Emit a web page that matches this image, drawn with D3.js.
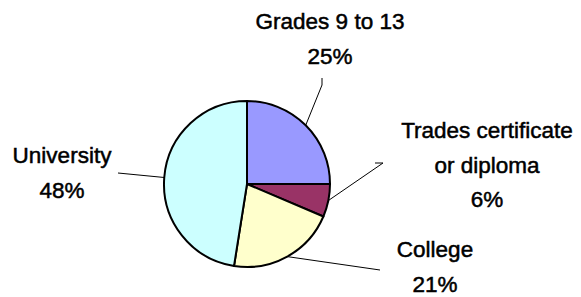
<!DOCTYPE html>
<html>
<head>
<meta charset="utf-8">
<script src="https://cdn.jsdelivr.net/npm/d3@7"></script>
<style>
  body { margin: 0; background: #fff; }
  .label {
    font-family: "Liberation Sans", Arial, sans-serif;
    font-size: 22.5px;
    fill: #000;
    stroke: #000;
    stroke-width: 0.5px;
  }
</style>
</head>
<body>
<div id="chart"></div>
<script>
const categories = ["Grades 9 to 13", "Trades certificate or diploma", "College", "University"];
const values = [25.0, 6.4, 21.1, 47.5];
const labelLines = [
  ["Grades 9 to 13"],
  ["Trades certificate", "or diploma"],
  ["College"],
  ["University"]
];
const colors = ["#9999ff", "#993366", "#ffffcc", "#ccffff"];

const width = 581;
const height = 297;
const cx = 247;
const cy = 184;
const radius = 83;
const lineGap = 34.5;

// where each label block sits, and where its leader line ends
const layout = [
  { x: 330, y: 29, leader: [[322, 78], [322, 85]] },
  { x: 487, y: 138, leader: [[375, 163], [383, 163]] },
  { x: 435, y: 257, leader: [[380, 270]] },
  { x: 62, y: 163, leader: [[118, 173]] }
];

const svg = d3.select("#chart")
  .append("svg")
  .attr("width", width)
  .attr("height", height);

const total = d3.sum(values);
const data = categories.map(function(c, i) {
  return { name: c, value: values[i], color: colors[i], lines: labelLines[i], pos: layout[i] };
});

const pie = d3.pie()
  .value(d => d.value)
  .sort(null);

const arc = d3.arc()
  .innerRadius(0)
  .outerRadius(radius);

const g = svg.append("g")
  .attr("transform", `translate(${cx}, ${cy})`);

const arcs = pie(data);

g.selectAll("path.slice")
  .data(arcs)
  .enter()
  .append("path")
  .attr("class", "slice")
  .attr("d", arc)
  .attr("fill", d => d.data.color)
  .attr("stroke", "#000")
  .attr("stroke-width", 2)
  .attr("stroke-linejoin", "round");

// Leader lines from the middle of each arc
arcs.forEach(function(d) {
  const mid = (d.startAngle + d.endAngle) / 2;
  const start = [cx + radius * Math.sin(mid), cy - radius * Math.cos(mid)];
  const pts = [start].concat(d.data.pos.leader.slice().reverse());
  svg.append("path")
    .attr("d", d3.line()(pts))
    .attr("fill", "none")
    .attr("stroke", "#000")
    .attr("stroke-width", 1);
});

// Labels
arcs.forEach(function(d) {
  const t = svg.append("text")
    .attr("class", "label")
    .attr("text-anchor", "middle");
  const lines = d.data.lines.concat([Math.round(d.data.value / total * 100) + "%"]);
  lines.forEach(function(l, i) {
    t.append("tspan")
      .attr("x", d.data.pos.x)
      .attr("y", d.data.pos.y + i * lineGap)
      .text(l);
  });
});
</script>
</body>
</html>
